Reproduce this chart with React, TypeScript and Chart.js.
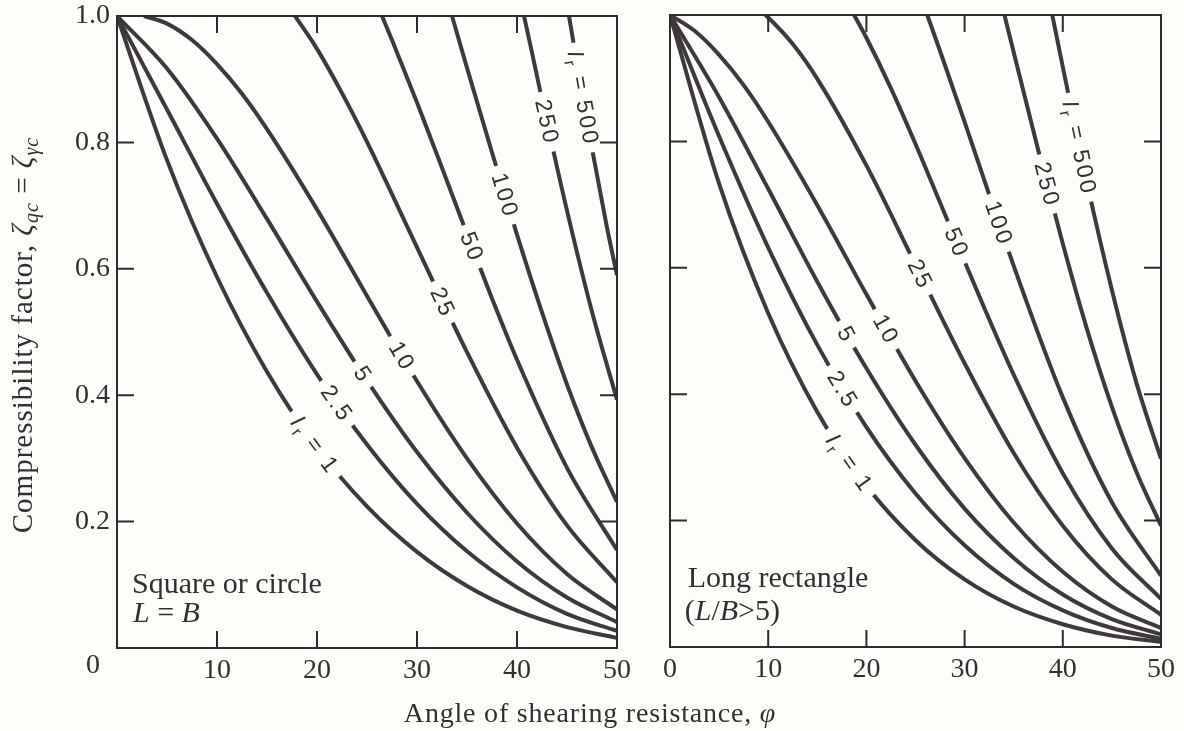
import React, { useEffect, useRef } from 'react';
import { Chart, registerables } from 'chart.js';

Chart.register(...registerables);

// ---------------- data ----------------
const PHI_TICKS = [0, 10, 20, 30, 40, 50];
const ZETA_TICKS = [0, 0.2, 0.4, 0.6, 0.8, 1.0];
const IR_NAMES = ['1', '2.5', '5', '10', '25', '50', '100', '250', '500'];

const PHI_GRID = [0, 5, 10, 15, 20, 25, 30, 35, 40, 45, 50];

// Square or circle, L = B
const SQ_1 = [1, 0.772, 0.587, 0.437, 0.317, 0.224, 0.152, 0.098, 0.059, 0.033, 0.016];
const SQ_2_5 = [1, 0.852, 0.703, 0.562, 0.433, 0.322, 0.228, 0.153, 0.096, 0.054, 0.027];
const SQ_5 = [1, 0.917, 0.806, 0.679, 0.548, 0.423, 0.31, 0.214, 0.137, 0.08, 0.041];
const SQ_10_PHI = [2.7, 5, 7.5, 10, 12.5, 15, 20, 25, 30, 35, 40, 45, 50];
const SQ_10 = [1, 0.988, 0.962, 0.924, 0.877, 0.821, 0.694, 0.557, 0.422, 0.3, 0.197, 0.117, 0.061];
const SQ_25_PHI = [17.8, 20, 22.5, 25, 30, 35, 40, 45, 50];
const SQ_25 = [1, 0.948, 0.878, 0.801, 0.634, 0.468, 0.317, 0.194, 0.104];
const SQ_50_PHI = [26.5, 27.5, 30, 32.5, 35, 37.5, 40, 45, 50];
const SQ_50 = [1, 0.962, 0.863, 0.76, 0.655, 0.553, 0.456, 0.285, 0.155];
const SQ_100_PHI = [33.5, 35, 37.5, 40, 42.5, 45, 47.5, 50];
const SQ_100 = [1, 0.918, 0.784, 0.654, 0.531, 0.417, 0.317, 0.231];
const SQ_250_PHI = [40.7, 41.5, 42.5, 45, 47.5, 50];
const SQ_250 = [1, 0.942, 0.868, 0.692, 0.532, 0.393];
const SQ_500_PHI = [45.2, 46, 47.5, 49, 50];
const SQ_500 = [1, 0.925, 0.79, 0.665, 0.59];

// Long rectangle, L/B > 5
const RC_1 = [1, 0.733, 0.528, 0.372, 0.255, 0.169, 0.107, 0.064, 0.036, 0.018, 0.008];
const RC_2_5 = [1, 0.808, 0.632, 0.478, 0.348, 0.243, 0.161, 0.1, 0.058, 0.03, 0.013];
const RC_5 = [1, 0.87, 0.725, 0.578, 0.441, 0.32, 0.219, 0.141, 0.083, 0.044, 0.02];
const RC_10_PHI = [0, 2.5, 5, 7.5, 10, 15, 20, 25, 30, 35, 40, 45, 50];
const RC_10 = [1, 0.975, 0.937, 0.889, 0.831, 0.699, 0.558, 0.421, 0.299, 0.197, 0.119, 0.064, 0.03];
const RC_25_PHI = [9.7, 10, 12.5, 15, 20, 25, 30, 35, 40, 45, 50];
const RC_25 = [1, 0.996, 0.954, 0.899, 0.762, 0.605, 0.449, 0.307, 0.192, 0.107, 0.051];
const RC_50_PHI = [18.75, 20, 22.5, 25, 30, 35, 40, 45, 50];
const RC_50 = [1, 0.964, 0.884, 0.796, 0.61, 0.431, 0.275, 0.156, 0.076];
const RC_100_PHI = [26.2, 27.5, 30, 32.5, 35, 40, 45, 50];
const RC_100 = [1, 0.943, 0.831, 0.716, 0.603, 0.395, 0.229, 0.113];
const RC_250_PHI = [34.06, 35, 37.5, 40, 42.5, 45, 47.5, 50];
const RC_250 = [1, 0.941, 0.786, 0.638, 0.501, 0.38, 0.277, 0.192];
const RC_500_PHI = [38.93, 40, 42.5, 45, 47.5, 50];
const RC_500 = [1, 0.918, 0.732, 0.565, 0.418, 0.298];

// where the Ir labels sit along each curve (angle phi)
const SQ_LABEL_PHI = [19.8, 22.0, 24.6, 28.5, 32.6, 35.5, 38.8, 43.0, 46.6];
const RC_LABEL_PHI = [18.3, 17.6, 18.0, 22.0, 25.5, 29.2, 33.5, 38.4, 41.7];

// ---------------- styling ----------------
const W = 1184;
const H = 731;
const INK = '#3f393f';
const FRAME = '#2e2b2e';
const TEXT = '#303030';
const BG = '#fdfdfa';
const SERIF = '"Liberation Serif", "Times New Roman", serif';
const SANS = '"Liberation Sans", Arial, sans-serif';
const TICK_LEN = 17;
const LABEL_SIZE = 23;

const LEFT_AREA = { left: 117, right: 617, top: 16, bottom: 648 };
const RIGHT_AREA = { left: 670, right: 1161, top: 15, bottom: 647 };

type Curve = { phi: number[]; val: number[] };
type Part = { t: string; italic?: boolean; sub?: boolean };
type Note = { phi: number; zeta: number; parts: Part[] };

const SQUARE_CURVES: Curve[] = [
  { phi: PHI_GRID, val: SQ_1 },
  { phi: PHI_GRID, val: SQ_2_5 },
  { phi: PHI_GRID, val: SQ_5 },
  { phi: SQ_10_PHI, val: SQ_10 },
  { phi: SQ_25_PHI, val: SQ_25 },
  { phi: SQ_50_PHI, val: SQ_50 },
  { phi: SQ_100_PHI, val: SQ_100 },
  { phi: SQ_250_PHI, val: SQ_250 },
  { phi: SQ_500_PHI, val: SQ_500 },
];

const RECT_CURVES: Curve[] = [
  { phi: PHI_GRID, val: RC_1 },
  { phi: PHI_GRID, val: RC_2_5 },
  { phi: PHI_GRID, val: RC_5 },
  { phi: RC_10_PHI, val: RC_10 },
  { phi: RC_25_PHI, val: RC_25 },
  { phi: RC_50_PHI, val: RC_50 },
  { phi: RC_100_PHI, val: RC_100 },
  { phi: RC_250_PHI, val: RC_250 },
  { phi: RC_500_PHI, val: RC_500 },
];

const SQ_NOTES: Note[] = [
  { phi: 1.5, zeta: 0.087, parts: [{ t: 'Square or circle' }] },
  { phi: 1.6, zeta: 0.041, parts: [{ t: 'L', italic: true }, { t: ' = ' }, { t: 'B', italic: true }] },
];
const RC_NOTES: Note[] = [
  { phi: 1.8, zeta: 0.095, parts: [{ t: 'Long rectangle' }] },
  {
    phi: 1.5,
    zeta: 0.043,
    parts: [{ t: '(' }, { t: 'L', italic: true }, { t: '/' }, { t: 'B', italic: true }, { t: '>5)' }],
  },
];

// ---------------- text helpers ----------------
function partFont(p: Part, size: number, family: string) {
  const s = p.sub ? Math.round(size * 0.68) : size;
  return `${p.italic ? 'italic ' : ''}${s}px ${family}`;
}
function partsWidth(ctx: CanvasRenderingContext2D, parts: Part[], size: number, family: string) {
  let w = 0;
  for (const p of parts) {
    ctx.font = partFont(p, size, family);
    w += ctx.measureText(p.t).width;
  }
  return w;
}
function drawParts(ctx: CanvasRenderingContext2D, parts: Part[], x: number, y: number, size: number, family: string) {
  let cx = x;
  for (const p of parts) {
    ctx.font = partFont(p, size, family);
    ctx.fillText(p.t, cx, p.sub ? y + size * 0.3 : y);
    cx += ctx.measureText(p.t).width;
  }
}

function labelParts(i: number): Part[] {
  if (i === 0 || i === IR_NAMES.length - 1) {
    return [{ t: 'I', italic: true }, { t: 'r', sub: true }, { t: ' = ' + IR_NAMES[i] }];
  }
  return [{ t: IR_NAMES[i] }];
}

// find the point (and direction) on the drawn curve at pixel x
function pointOnCurve(pts: any[], px: number) {
  const bez = (t: number, a: number, b: number, c: number, d: number) => {
    const u = 1 - t;
    return u * u * u * a + 3 * u * u * t * b + 3 * u * t * t * c + t * t * t * d;
  };
  const der = (t: number, a: number, b: number, c: number, d: number) => {
    const u = 1 - t;
    return 3 * u * u * (b - a) + 6 * u * t * (c - b) + 3 * t * t * (d - c);
  };
  for (let j = 0; j < pts.length - 1; j++) {
    const a = pts[j];
    const b = pts[j + 1];
    if (px >= a.x && px <= b.x) {
      const p1x = a.cp2x ?? a.x;
      const p1y = a.cp2y ?? a.y;
      const p2x = b.cp1x ?? b.x;
      const p2y = b.cp1y ?? b.y;
      let lo = 0;
      let hi = 1;
      for (let k = 0; k < 50; k++) {
        const m = (lo + hi) / 2;
        if (bez(m, a.x, p1x, p2x, b.x) < px) lo = m;
        else hi = m;
      }
      const t = (lo + hi) / 2;
      return {
        x: bez(t, a.x, p1x, p2x, b.x),
        y: bez(t, a.y, p1y, p2y, b.y),
        ang: Math.atan2(der(t, a.y, p1y, p2y, b.y), der(t, a.x, p1x, p2x, b.x)),
      };
    }
  }
  return null;
}

function makePanelPlugin(labelPhi: number[], notes: Note[], isLeft: boolean) {
  return {
    id: 'panelDecor',
    afterDatasetsDraw(chart: any) {
      const ctx: CanvasRenderingContext2D = chart.ctx;
      const xs = chart.scales.x;
      labelPhi.forEach((phi, i) => {
        const meta = chart.getDatasetMeta(i);
        const pt = pointOnCurve(meta.data as any[], xs.getPixelForValue(phi));
        if (!pt) return;
        const parts = labelParts(i);
        ctx.save();
        ctx.translate(pt.x, pt.y);
        ctx.rotate(pt.ang);
        (ctx as any).letterSpacing = '2.5px';
        const w = partsWidth(ctx, parts, LABEL_SIZE, SANS);
        ctx.fillStyle = BG;
        ctx.fillRect(-w / 2 - 8, -7, w + 15, 14);
        ctx.fillStyle = TEXT;
        ctx.textAlign = 'left';
        ctx.textBaseline = 'middle';
        drawParts(ctx, parts, -w / 2, 1, LABEL_SIZE, SANS);
        ctx.restore();
      });
    },
    afterDraw(chart: any) {
      const ctx: CanvasRenderingContext2D = chart.ctx;
      const a = chart.chartArea;
      const xs = chart.scales.x;
      const ys = chart.scales.y;
      ctx.save();
      // frame
      ctx.strokeStyle = FRAME;
      ctx.lineWidth = 2;
      ctx.strokeRect(a.left, a.top, a.right - a.left, a.bottom - a.top);
      // inward ticks on all four sides
      ctx.beginPath();
      PHI_TICKS.slice(1, -1).forEach((v) => {
        const x = xs.getPixelForValue(v);
        ctx.moveTo(x, a.bottom);
        ctx.lineTo(x, a.bottom - TICK_LEN);
        ctx.moveTo(x, a.top);
        ctx.lineTo(x, a.top + TICK_LEN);
      });
      ZETA_TICKS.slice(1, -1).forEach((v) => {
        const y = ys.getPixelForValue(v);
        ctx.moveTo(a.left, y);
        ctx.lineTo(a.left + TICK_LEN, y);
        ctx.moveTo(a.right, y);
        ctx.lineTo(a.right - TICK_LEN, y);
      });
      ctx.stroke();

      // panel notes
      ctx.fillStyle = TEXT;
      ctx.textAlign = 'left';
      ctx.textBaseline = 'alphabetic';
      notes.forEach((n) => {
        drawParts(ctx, n.parts, xs.getPixelForValue(n.phi), ys.getPixelForValue(n.zeta), 30, SERIF);
      });

      if (isLeft) {
        // shared origin label
        ctx.font = `28px ${SERIF}`;
        ctx.textAlign = 'center';
        ctx.textBaseline = 'middle';
        ctx.fillText('0', a.left - 24, a.bottom + 18);

        // y-axis title with subscripts
        ctx.textAlign = 'left';
        const yParts: Part[] = [
          { t: 'Compressibility factor, ' },
          { t: 'ζ', italic: true },
          { t: 'qc', italic: true, sub: true },
          { t: ' = ' },
          { t: 'ζ', italic: true },
          { t: 'γc', italic: true, sub: true },
        ];
        ctx.save();
        ctx.translate(24, 335);
        ctx.rotate(-Math.PI / 2);
        (ctx as any).letterSpacing = '1px';
        const wy = partsWidth(ctx, yParts, 29, SERIF);
        drawParts(ctx, yParts, -wy / 2, 0, 29, SERIF);
        ctx.restore();

        // shared x-axis title
        ctx.save();
        (ctx as any).letterSpacing = '0.8px';
        const xParts: Part[] = [{ t: 'Angle of shearing resistance, ' }, { t: 'φ', italic: true }];
        const wx = partsWidth(ctx, xParts, 28, SERIF);
        drawParts(ctx, xParts, 590 - wx / 2, 715, 28, SERIF);
        ctx.restore();
      }
      ctx.restore();
    },
  };
}

function buildConfig(curves: Curve[], area: typeof LEFT_AREA, isLeft: boolean, plugin: any): any {
  return {
    type: 'line',
    data: {
      datasets: curves.map((c, i) => ({
        label: 'Ir = ' + IR_NAMES[i],
        data: c.phi.map((p, k) => ({ x: p, y: c.val[k] })),
        borderColor: INK,
        borderWidth: 4,
        pointRadius: 0,
        fill: false,
        cubicInterpolationMode: 'monotone',
      })),
    },
    options: {
      responsive: false,
      animation: false,
      events: [],
      layout: { padding: { left: 0, top: area.top, right: W - area.right, bottom: 0 } },
      plugins: { legend: { display: false }, tooltip: { enabled: false }, title: { display: false } },
      scales: {
        x: {
          type: 'linear',
          min: 0,
          max: 50,
          grid: { display: false, drawTicks: false },
          border: { display: false },
          afterFit: (s: any) => {
            s.height = H - area.bottom;
            s.paddingLeft = 0;
            s.paddingRight = 0;
            s.paddingTop = 0;
            s.paddingBottom = 0;
          },
          ticks: {
            stepSize: 10,
            padding: 6,
            color: TEXT,
            maxRotation: 0,
            autoSkip: false,
            font: { family: SERIF, size: 28 },
            callback: (v: any) => (isLeft && Number(v) === 0 ? '' : String(v)),
          },
        },
        y: {
          type: 'linear',
          min: 0,
          max: 1,
          grid: { display: false, drawTicks: false },
          border: { display: false },
          afterFit: (s: any) => {
            s.width = area.left;
            s.paddingLeft = 0;
            s.paddingRight = 0;
            s.paddingTop = 0;
            s.paddingBottom = 0;
          },
          ticks: {
            display: isLeft,
            stepSize: 0.2,
            padding: 7,
            color: TEXT,
            font: { family: SERIF, size: 28 },
            callback: (v: any) => (Math.abs(Number(v)) < 1e-9 ? '' : Number(v).toFixed(1)),
          },
        },
      },
    },
    plugins: [plugin],
  };
}

export default function App() {
  const leftRef = useRef<HTMLCanvasElement>(null);
  const rightRef = useRef<HTMLCanvasElement>(null);

  useEffect(() => {
    const c1 = new Chart(
      leftRef.current as HTMLCanvasElement,
      buildConfig(SQUARE_CURVES, LEFT_AREA, true, makePanelPlugin(SQ_LABEL_PHI, SQ_NOTES, true))
    );
    const c2 = new Chart(
      rightRef.current as HTMLCanvasElement,
      buildConfig(RECT_CURVES, RIGHT_AREA, false, makePanelPlugin(RC_LABEL_PHI, RC_NOTES, false))
    );
    return () => {
      c1.destroy();
      c2.destroy();
    };
  }, []);

  return (
    <div style={{ position: 'absolute', left: 0, top: 0, width: W, height: H, background: BG, overflow: 'hidden' }}>
      <canvas ref={leftRef} width={W} height={H} style={{ position: 'absolute', left: 0, top: 0 }} />
      <canvas ref={rightRef} width={W} height={H} style={{ position: 'absolute', left: 0, top: 0 }} />
    </div>
  );
}
